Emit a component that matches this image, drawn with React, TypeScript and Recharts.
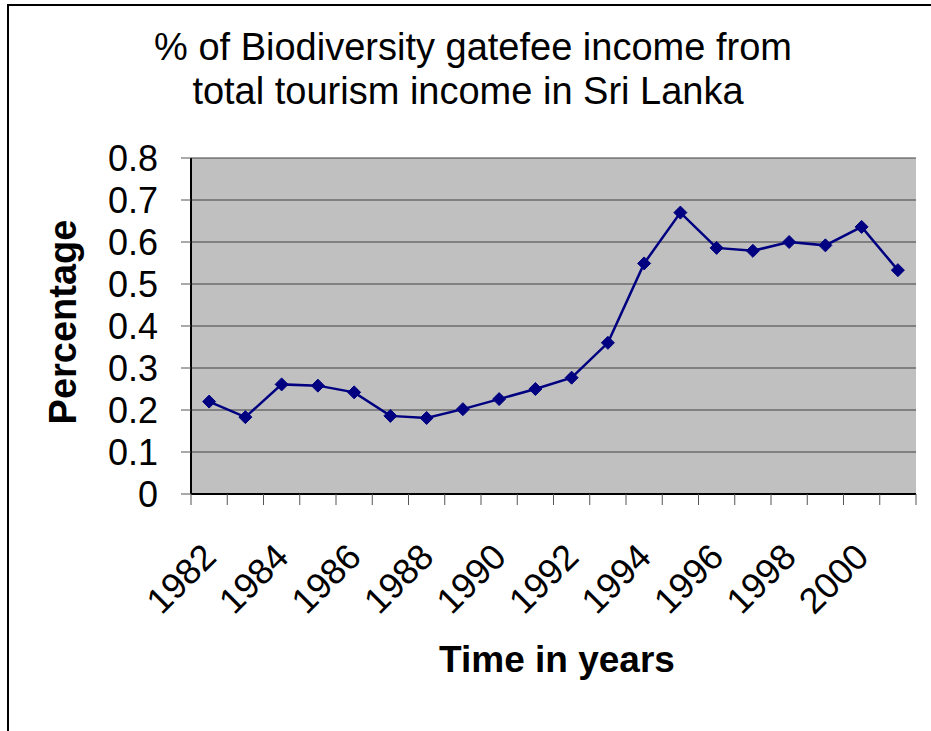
import React from 'react';
import { LineChart, Line, XAxis, YAxis, CartesianGrid } from 'recharts';

const years = [1982, 1983, 1984, 1985, 1986, 1987, 1988, 1989, 1990, 1991, 1992, 1993, 1994, 1995, 1996, 1997, 1998, 1999, 2000, 2001];
const shares = [0.22, 0.183, 0.261, 0.258, 0.242, 0.186, 0.181, 0.202, 0.226, 0.25, 0.277, 0.36, 0.549, 0.67, 0.586, 0.579, 0.6, 0.592, 0.636, 0.533];
const yTicks = [0, 0.1, 0.2, 0.3, 0.4, 0.5, 0.6, 0.7, 0.8];
const labelYears = [1982, 1984, 1986, 1988, 1990, 1992, 1994, 1996, 1998, 2000];

const data = years.map((year, i) => ({ year, share: shares[i] }));
// category edges for the tick marks
const edges = [...years.map((y) => y - 0.5), years[years.length - 1] + 0.5];
const xDomain = [edges[0], edges[edges.length - 1]];

const FONT = '"Liberation Sans", Arial, sans-serif';

const Diamond = (props: any) => {
  const { cx, cy } = props;
  if (cx == null || cy == null) return null;
  const r = 6.5;
  return <path d={`M${cx},${cy - r}L${cx + r},${cy}L${cx},${cy + r}L${cx - r},${cy}Z`} fill="#000080" stroke="#000080" />;
};

const NoLabel = () => <g />;

const YearTick = (props: any) => {
  const { x, y, payload } = props;
  const px = x + 9;
  const py = y + 46;
  return (
    <text x={px} y={py} transform={`rotate(-45 ${px} ${py})`} textAnchor="end" fontSize={36} fontFamily={FONT} fill="#000">
      {payload.value}
    </text>
  );
};

export default function App() {
  return (
    <div style={{ position: 'absolute', left: 0, top: 0, width: 931, height: 731, background: '#fff', overflow: 'hidden' }}>
      <div style={{ position: 'absolute', left: 7, top: 4, width: 960, height: 760, borderLeft: '2px solid #000', borderTop: '2px solid #000' }} />
      <div style={{ position: 'absolute', left: 0, top: 0 }}>
        <LineChart width={931} height={731} data={data} margin={{ top: 158, right: 15, bottom: 106, left: 0 }}>
          <CartesianGrid horizontal vertical={false} fill="#c0c0c0" stroke="#404040" yAxisId="left" xAxisId="edge" />
          <XAxis
            xAxisId="edge"
            dataKey="year"
            type="number"
            domain={xDomain}
            ticks={edges}
            interval={0}
            height={11}
            tick={<NoLabel />}
            tickSize={11}
            tickLine={{ stroke: '#555' }}
            axisLine={{ stroke: '#000', strokeWidth: 2 }}
          />
          <XAxis
            xAxisId="label"
            dataKey="year"
            type="number"
            domain={xDomain}
            ticks={labelYears}
            interval={0}
            height={120}
            tick={<YearTick />}
            tickLine={false}
            axisLine={false}
          />
          <YAxis
            yAxisId="left"
            width={191}
            domain={[0, 0.8]}
            ticks={yTicks}
            interval={0}
            tickSize={10}
            tickMargin={23}
            tick={{ fontSize: 36, fontFamily: FONT, fill: '#000' }}
            tickLine={{ stroke: '#555' }}
            axisLine={{ stroke: '#000', strokeWidth: 2 }}
          />
          <YAxis
            yAxisId="right"
            orientation="right"
            width={0}
            domain={[0, 0.8]}
            tick={false}
            tickLine={false}
            axisLine={{ stroke: '#808080', strokeWidth: 2 }}
          />
          <Line
            xAxisId="edge"
            yAxisId="left"
            dataKey="share"
            type="linear"
            stroke="#000080"
            strokeWidth={2.5}
            dot={<Diamond />}
            isAnimationActive={false}
          />
        </LineChart>
      </div>
      <svg width={931} height={731} style={{ position: 'absolute', left: 0, top: 0, pointerEvents: 'none' }}>
        <text x={473} y={60} textAnchor="middle" fontSize={38} fontFamily={FONT} fill="#000">
          % of Biodiversity gatefee income from
        </text>
        <text x={468} y={104} textAnchor="middle" fontSize={38} fontFamily={FONT} fill="#000">
          total tourism income in Sri Lanka
        </text>
        <text x={76} y={322} transform="rotate(-90 76 322)" textAnchor="middle" fontSize={38} fontWeight="bold" fontFamily={FONT} fill="#000">
          Percentage
        </text>
        <text x={557} y={672} textAnchor="middle" fontSize={37} fontWeight="bold" fontFamily={FONT} fill="#000">
          Time in years
        </text>
      </svg>
    </div>
  );
}
